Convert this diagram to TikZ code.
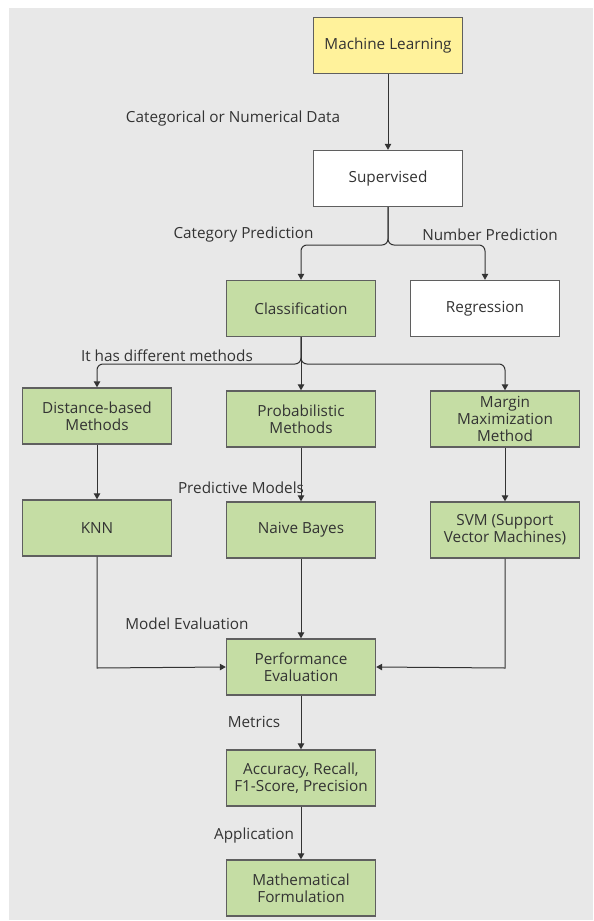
\documentclass[tikz,border=0pt]{standalone}
\usepackage{fontspec}
\setmainfont{Open Sans}
\usetikzlibrary{arrows.meta}
\definecolor{bg}{HTML}{E8E8E8}
\definecolor{grn}{HTML}{C5DDA4}
\definecolor{ylw}{HTML}{FFF29B}
\definecolor{bord}{HTML}{5F5F5F}
\definecolor{txt}{HTML}{333333}
\tikzset{
  box/.style={draw=bord, line width=1.4pt, fill=grn, minimum width=149pt, minimum height=56pt,
    align=center, text=txt, font=\fontsize{15.3}{16.8}\selectfont, inner sep=1pt},
  lbl/.style={text=txt, font=\fontsize{15.3}{16.8}\selectfont, inner sep=0pt},
  conn/.style={draw=txt, line width=1pt, -{Triangle[length=6pt,width=6.5pt]}},
}
\begin{document}
\begin{tikzpicture}[x=1pt,y=-1pt]
\useasboundingbox (0,0) rectangle (594,921);
\fill[bg] (9,8) rectangle (593,920);
\node[box, fill=ylw] (ml) at (388,45.5) {Machine Learning};
\node[box, fill=white] (sup) at (388,178.5) {Supervised};
\node[box] (cls) at (301,308.5) {Classification};
\node[box, fill=white] (reg) at (485,308.5) {Regression};
\node[box] (dist) at (97,416) {Distance-based\\Methods};
\node[box] (prob) at (301,419) {Probabilistic\\Methods};
\node[box] (marg) at (505,419) {Margin\\Maximization\\Method};
\node[box] (knn) at (97,528) {KNN};
\node[box] (nb) at (301,530) {Naive Bayes};
\node[box] (svm) at (505,530) {SVM (Support\\Vector Machines)};
\node[box] (perf) at (301,667) {Performance\\Evaluation};
\node[box] (acc) at (301,778) {Accuracy, Recall,\\F1-Score, Precision};
\node[box] (math) at (301,888) {Mathematical\\Formulation};

\node[lbl] (l1) at (233,118.5) {Categorical or Numerical Data};
\node[lbl] (l2) at (243.5,234.5) {Category Prediction};
\node[lbl] (l3) at (490,234.5) {Number Prediction};
\node[lbl] (l4) at (167,355.5) {It has different methods};
\node[lbl] (l5) at (241,487.5) {Predictive Models};
\node[lbl] (l6) at (187,623.5) {Model Evaluation};
\node[lbl] (l7) at (254,721.5) {Metrics};
\node[lbl] (l8) at (254,835.5) {Application};

\coordinate (j1) at (388,245);
\coordinate (j2) at (301,364);
\coordinate (kb) at (97,668);
\coordinate (sb) at (505,668);

\draw[conn] (ml) -- (sup);
\draw[conn, rounded corners=6pt] (sup.south) -- (j1) -- (j1 -| cls) -- (cls.north);
\draw[conn, rounded corners=6pt] (sup.south) -- (j1) -- (j1 -| reg) -- (reg.north);
\draw[conn, rounded corners=6pt] (cls.south) -- (j2) -- (j2 -| dist) -- (dist.north);
\draw[conn] (cls.south) -- (prob.north);
\draw[conn, rounded corners=6pt] (cls.south) -- (j2) -- (j2 -| marg) -- (marg.north);
\draw[conn] (dist) -- (knn);
\draw[conn] (prob) -- (nb);
\draw[conn] (marg) -- (svm);
\draw[conn] (nb) -- (perf);
\draw[conn] (knn.south) -- (kb) -- (perf.west);
\draw[conn] (svm.south) -- (sb) -- (perf.east);
\draw[conn] (perf) -- (acc);
\draw[conn] (acc) -- (math);
\end{tikzpicture}
\end{document}
